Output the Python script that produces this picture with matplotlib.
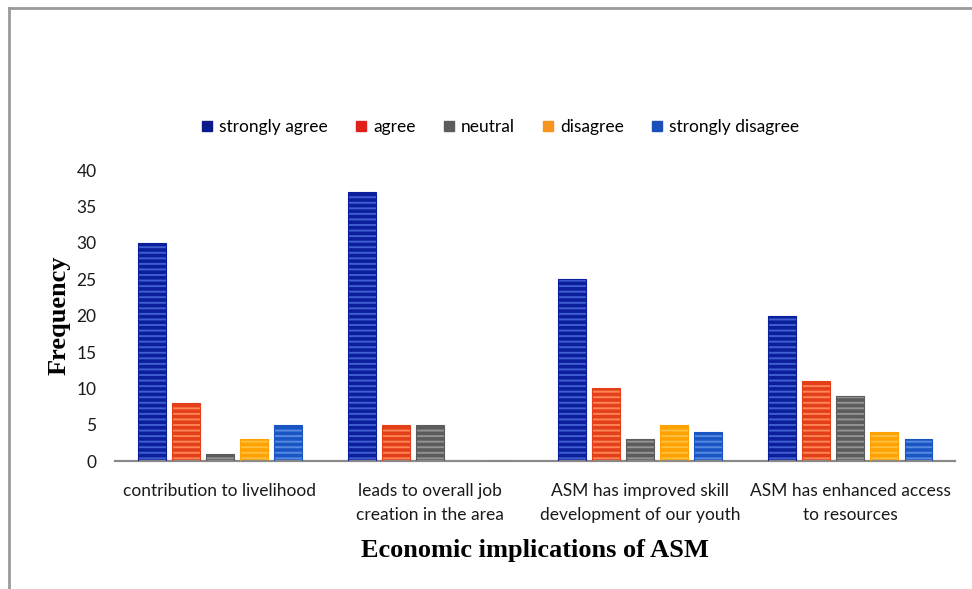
import numpy as np
import matplotlib.pyplot as plt
from matplotlib.lines import Line2D

# survey responses per statement
categories = ['contribution to livelihood',
              'leads to overall job\ncreation in the area',
              'ASM has improved skill\ndevelopment of our youth',
              'ASM has enhanced access\nto resources']
responses = ['strongly agree', 'agree', 'neutral', 'disagree', 'strongly disagree']
strongly_agree = [30, 37, 25, 20]
agree = [8, 5, 10, 11]
neutral = [1, 5, 3, 9]
disagree = [3, 0, 5, 4]
strongly_disagree = [5, 0, 4, 3]
y_ticks = [0, 5, 10, 15, 20, 25, 30, 35, 40]

series = [strongly_agree, agree, neutral, disagree, strongly_disagree]
face_colors = ['#0b1f9c', '#e3401a', '#5c5c5c', '#ffa200', '#1a55c4']
stripe_colors = ['#3f5ed0', '#ff8556', '#939393', '#ffc040', '#5589e2']
legend_colors = ['#0a1a8a', '#e0201a', '#5c5c5c', '#f7931e', '#1a4fb8']

tick_font = 'Lato'
plt.rcParams['hatch.linewidth'] = 1.4

fig = plt.figure(figsize=(9.72, 5.89), dpi=100)
ax = fig.add_axes([0.118, 0.217, 0.865, 0.494])

x = np.arange(len(categories))
width = 0.133
step = 0.162

for i, vals in enumerate(series):
    pos = x + (i - 2) * step
    # striped fill, then a thin outline on top
    ax.bar(pos, vals, width, color=face_colors[i], edgecolor=stripe_colors[i],
           hatch='---', linewidth=0, zorder=2)
    ax.bar(pos, vals, width, fill=False, edgecolor=face_colors[i],
           linewidth=0.8, zorder=3)

ax.set_xlim(-0.5, 3.5)
ax.set_ylim(0, 40)
ax.set_yticks(y_ticks)
ax.set_yticklabels([str(v) for v in y_ticks], fontsize=12.5, family=tick_font,
                   color='#1a1a1a')
ax.set_xticks(x)
ax.set_xticklabels(categories, fontsize=12.5, family=tick_font, color='#1a1a1a',
                   linespacing=1.55)
ax.tick_params(axis='both', length=0)
ax.tick_params(axis='y', pad=13)
ax.tick_params(axis='x', pad=16)

for side in ['top', 'right', 'left']:
    ax.spines[side].set_visible(False)
ax.spines['bottom'].set_color('#8a8a8a')
ax.spines['bottom'].set_linewidth(1.6)

ax.set_ylabel('Frequency', family='Liberation Serif', fontweight='bold',
              fontsize=19, labelpad=4)
ax.set_xlabel('Economic implications of ASM', family='Liberation Serif',
              fontweight='bold', fontsize=19, labelpad=12)

handles = [Line2D([], [], marker='s', linestyle='none', markersize=7,
                  markerfacecolor=c, markeredgecolor=c) for c in legend_colors]
fig.legend(handles, responses, loc='center', bbox_to_anchor=(0.513, 0.784),
           ncol=5, frameon=False, handlelength=1.0, handletextpad=0.2,
           columnspacing=1.4, prop={'family': tick_font, 'size': 12.5})

# outer border of the chart area
fig.add_artist(Line2D([0.009, 1.0], [0.986, 0.986], color='#9a9a9a', lw=2.0,
                      transform=fig.transFigure))
fig.add_artist(Line2D([0.009, 0.009], [0.0, 0.986], color='#9a9a9a', lw=2.0,
                      transform=fig.transFigure))

fig.savefig('out.png', dpi=100)
